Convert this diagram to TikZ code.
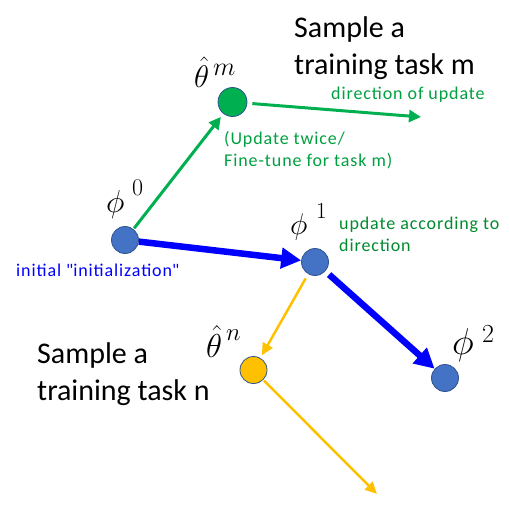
\documentclass[tikz,border=0pt]{standalone}
\usepackage{graphicx}
\usepackage{fontspec}
\setmainfont{Carlito}
\newfontfamily\smallfam[LetterSpace=5.0]{Carlito}
\usetikzlibrary{arrows.meta}
\definecolor{offgreen}{HTML}{00B050}
\definecolor{txtgreen}{HTML}{00A040}
\definecolor{txtgreen2}{HTML}{008A2E}
\definecolor{nodeblue}{HTML}{4472C4}
\definecolor{edgeblue}{HTML}{2F528F}
\definecolor{arrblue}{HTML}{0000FF}
\definecolor{offyellow}{HTML}{FFC000}
\newcommand{\mfs}[2]{\scalebox{#1}{\Huge$#2$}}
\tikzset{
  pt/.style={circle, draw=edgeblue, line width=0.8pt, minimum size=27pt, inner sep=0pt},
  bigtext/.style={align=left, anchor=west, font=\fontsize{30}{36.5}\selectfont, inner sep=0pt},
  smalltext/.style={align=left, anchor=west, font=\smallfam\fontsize{18}{22}\selectfont, inner sep=0pt},
  mathlbl/.style={inner sep=0pt, anchor=base west},
  greenarr/.style={draw=offgreen, line width=3pt, -{Triangle[length=12pt, width=12pt]}},
  bluearr/.style={draw=arrblue, line width=6.5pt, -{Triangle[length=20pt, width=20pt]}},
  yellowarr/.style={draw=offyellow, line width=2.5pt, -{Triangle[length=12pt, width=11pt]}}
}
\begin{document}
\begin{tikzpicture}[x=1pt, y=-1pt]
\useasboundingbox (0,0) rectangle (510,509);
% points
\node[pt, fill=nodeblue] (p0) at (125,240) {};
\node[pt, fill=nodeblue] (p1) at (315,262) {};
\node[pt, fill=nodeblue] (p2) at (445,378) {};
\node[pt, fill=offgreen, minimum size=29pt] (tm) at (232.5,102) {};
\node[pt, fill=offyellow] (tn) at (253.5,370) {};
\coordinate (gend) at (421,117);
\coordinate (yend) at (377,494);
% arrows
\draw[greenarr, shorten <=1pt, shorten >=4pt] (p0) -- (tm);
\draw[greenarr, shorten <=5pt] (tm) -- (gend);
\draw[bluearr, shorten <=0pt] (p0) -- (p1);
\draw[bluearr, shorten <=5pt] (p1) -- (p2);
\draw[yellowarr, shorten <=5pt, shorten >=3pt] (p1) -- (tn);
\draw[yellowarr, shorten <=1pt] (tn) -- (yend);
% math labels
\node[mathlbl] (ltm) at (194,87) {\mfs{1.25}{\hat{\theta}}};
\node[mathlbl] (ltms) at (213,75) {\mfs{1.045}{m}};
\node[mathlbl] (lp0) at (106,212) {\mfs{1.27}{\phi}};
\node[mathlbl] (lp0s) at (132,195) {\mfs{0.965}{0}};
\node[mathlbl] (lp1) at (290,234) {\mfs{1.2}{\phi}};
\node[mathlbl] (lp1s) at (316,218) {\mfs{0.92}{1}};
\node[mathlbl] (ltn) at (206,357) {\mfs{1.33}{\hat{\theta}}};
\node[mathlbl] (ltns) at (226,340) {\mfs{1.0}{n}};
\node[mathlbl] (lp2) at (452,354) {\mfs{1.5}{\phi}};
\node[mathlbl] (lp2s) at (482,342) {\mfs{1.045}{2}};
% texts
\node[bigtext] (sm) at (294,48) {Sample a\\training task m};
\node[bigtext] (sn) at (37,374) {Sample a\\training task n};
\node[smalltext, text=txtgreen] (dir) at (331,95) {direction of update};
\node[smalltext, text=txtgreen] (upd) at (224,150) {(Update twice/\\Fine-tune for task m)};
\node[smalltext, text=txtgreen2] (acc) at (339,234) {update according to\\direction};
\node[smalltext, text=arrblue] (ini) at (16,270) {initial \textquotedbl initialization\textquotedbl};
\end{tikzpicture}
\end{document}
